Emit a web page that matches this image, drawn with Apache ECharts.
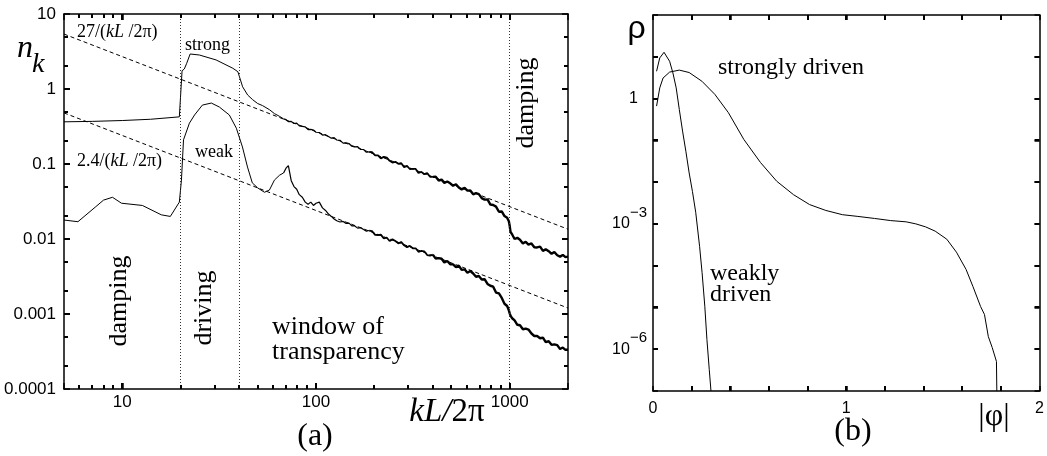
<!DOCTYPE html>
<html><head><meta charset="utf-8">
<script src="https://cdn.jsdelivr.net/npm/echarts@6/dist/echarts.min.js"></script>
<style>html,body{margin:0;padding:0;background:#fff}#c{width:1047px;height:456px}</style>
</head><body><div id="c"></div>
<script>
// ---------------- panel (a) data ----------------
const kRange = [5, 2000];
const nkRange = [0.0001, 10];
const kTickValues = [10, 100, 1000];
const kTickLabels = ['10', '100', '1000'];
const nkTickValues = [10, 1, 0.1, 0.01, 0.001, 0.0001];
const nkTickLabels = ['10', '1', '0.1', '0.01', '0.001', '0.0001'];
const kMinorTicks = [6, 7, 8, 9, 20, 30, 40, 50, 60, 70, 80, 90, 200, 300, 400, 500, 600, 700, 800, 900];
const nkMinorTicks = [0.0002, 0.0005, 0.002, 0.005, 0.02, 0.05, 0.2, 0.5, 2, 5];
const regionBounds = [20, 40, 1000];

const kStrongSmooth = [5, 7, 10, 14, 19.7, 20.35, 20.9, 21.5, 22.4, 25, 30.5, 37.2, 39.5, 41.8, 44.4, 47.1, 50, 53, 57.5, 61, 65, 68];
const nStrongSmooth = [0.365, 0.37, 0.38, 0.395, 0.425, 1.75, 1.85, 2.2, 2.93, 2.84, 2.44, 1.89, 1.70, 1.07, 0.83, 0.72, 0.64, 0.6, 0.53, 0.47, 0.43, 0.40];

const kWeakSmooth = [5, 5.9, 7.3, 8.0, 8.9, 9.9, 12.7, 15.9, 17.7, 19.7, 20.2, 20.7, 22.2, 23.6, 25.9, 28.8, 31.7, 35.7, 38.8, 41.7, 44.3, 46.9, 50, 54.2, 57.5, 61, 64.9, 68];
const nWeakSmooth = [0.0179, 0.017, 0.027, 0.033, 0.036, 0.030, 0.028, 0.021, 0.020, 0.031, 0.061, 0.21, 0.35, 0.45, 0.61, 0.65, 0.575, 0.45, 0.30, 0.169, 0.091, 0.056, 0.048, 0.042, 0.045, 0.061, 0.071, 0.076];

const kNoise = [70, 72, 74.5, 77, 79.5, 82, 85, 88, 91, 94, 97, 100, 104, 108, 112, 116, 120, 124, 128, 133,
  138, 143, 148, 153, 158, 164, 170, 176, 182, 188, 195, 202, 209, 216, 224, 232, 240, 248, 257, 266,
  275, 285, 295, 305, 316, 327, 338, 350, 362, 375, 388, 401, 415, 430, 445, 460, 476, 493, 510, 528,
  546, 565, 585, 605, 626, 648, 670, 693, 717, 742, 768, 795, 822, 850, 880, 910, 940, 970, 990, 1000,
  1010, 1030, 1060, 1095, 1130, 1170, 1210, 1250, 1295, 1340, 1385, 1435, 1485, 1535, 1590, 1645, 1700, 1760, 1820, 1880,
  1940, 2000];
const nStrongNoise = [0.390, 0.368, 0.369, 0.347, 0.350, 0.322, 0.318, 0.313, 0.288, 0.290, 0.284, 0.265, 0.263, 0.243, 0.246, 0.233, 0.2205, 0.2245, 0.209, 0.207,
  0.190, 0.191, 0.1875, 0.1725, 0.169, 0.170, 0.156, 0.156, 0.1435, 0.1455, 0.1435, 0.130, 0.1303, 0.1188, 0.1246, 0.1218, 0.1103, 0.1046, 0.1071, 0.1005,
  0.1029, 0.0909, 0.0942, 0.0858, 0.0863, 0.0859, 0.0759, 0.0786, 0.0731, 0.0756, 0.0675, 0.0673, 0.0677, 0.0603, 0.0619, 0.0558, 0.0584, 0.0553, 0.0513, 0.0537,
  0.0485, 0.0459, 0.0480, 0.0442, 0.0444, 0.0394, 0.0408, 0.0397, 0.0351, 0.0335, 0.0338, 0.0288, 0.0284, 0.0270, 0.0231, 0.0233, 0.0202, 0.0192, 0.0172, 0.0150,
  0.0124, 0.0115, 0.0100, 0.0104, 0.0098, 0.00874, 0.00917, 0.00843, 0.00872, 0.00776, 0.00772, 0.00790, 0.00694, 0.00731, 0.00687, 0.00634, 0.00672, 0.00608, 0.00582, 0.00614,
  0.00574, 0.00581];
const nWeakNoise = [0.088, 0.095, 0.060, 0.050, 0.046, 0.039, 0.036, 0.031, 0.029, 0.031, 0.028, 0.030, 0.031, 0.026, 0.024, 0.0215, 0.020, 0.0185, 0.0175, 0.01686,
  0.01714, 0.01614, 0.01627, 0.01499, 0.01505, 0.01397, 0.01418, 0.0134, 0.01274, 0.01298, 0.0127, 0.01135, 0.0113, 0.01144, 0.01018, 0.0104, 0.0094, 0.00989, 0.00939, 0.00873,
  0.00914, 0.00823, 0.00778, 0.00811, 0.00752, 0.00752, 0.00675, 0.00694, 0.00686, 0.00611, 0.00598, 0.00620, 0.00547, 0.00556, 0.00546, 0.00485, 0.00510, 0.00461, 0.00459, 0.00422,
  0.00441, 0.00388, 0.00394, 0.00355, 0.00374, 0.00347, 0.00314, 0.00321, 0.00289, 0.00291, 0.00252, 0.00238, 0.00231, 0.00193, 0.00188, 0.00164, 0.00137, 0.00128, 0.00112, 0.00102,
  0.00095, 0.000877, 0.000822, 0.000718, 0.000707, 0.000627, 0.000639, 0.000620, 0.000549, 0.000509, 0.000510, 0.000475, 0.000483, 0.000422, 0.000433, 0.000388, 0.000394, 0.000385, 0.000342, 0.000357,
  0.000333, 0.000333];

const fitK = [5, 2000];
const fitStrongN = [5.4, 0.0135];
const fitWeakN = [0.48, 0.0012];

// ---------------- panel (b) data ----------------
const phiRange = [0, 2];
const rhoRange = [1e-7, 100];
const phiTicks = [0.2, 0.4, 0.6, 0.8, 1, 1.2, 1.4, 1.6, 1.8];
const rhoTicks = [1e-6, 1e-5, 1e-4, 1e-3, 1e-2, 1e-1, 1, 10];
const phiTickValues = [0, 1, 2];
const phiTickLabels = ['0', '1', '2'];
const rhoTickValues = [1, 1e-3, 1e-6];
const rhoTickBase = ['1', '10', '10'];
const rhoTickExp = ['', '\u22123', '\u22126'];

const phiWeak = [0.0185, 0.035, 0.057, 0.086, 0.103, 0.12, 0.136, 0.153, 0.170, 0.187, 0.204, 0.221, 0.241, 0.254, 0.268, 0.279, 0.291, 0.30];
const rhoWeak = [4.5, 9.4, 12.8, 7.8, 4.1, 1.8, 0.55, 0.166, 0.055, 0.0166, 0.006, 0.0019, 2.9e-4, 6.8e-5, 1.07e-5, 1.7e-6, 3.3e-7, 1.0e-7];
const phiStrong = [0.0185, 0.035, 0.052, 0.086, 0.136, 0.187, 0.253, 0.32, 0.39, 0.47, 0.556, 0.64, 0.727, 0.81, 0.894, 0.98, 1.06, 1.146, 1.23, 1.31, 1.36, 1.41, 1.46, 1.52, 1.57, 1.62, 1.655, 1.695, 1.715, 1.735, 1.755, 1.777, 1.779];
const rhoStrong = [0.66, 1.8, 3.1, 4.3, 4.8, 4.2, 2.6, 1.26, 0.46, 0.105, 0.0295, 0.0105, 0.005, 0.0029, 0.0021, 0.00166, 0.00151, 0.00135, 0.0012, 0.00112, 0.00100, 0.00085, 0.00067, 0.00043, 0.00021, 8.1e-5, 3.2e-5, 1.05e-5, 6.8e-6, 2.0e-6, 1.1e-6, 5.1e-7, 1e-7];

// ---------------- helpers ----------------
const SERIF = '"Liberation Serif", "Times New Roman", serif';
const SANS = '"Liberation Sans", Arial, sans-serif';
const zip = (xs, ys) => xs.map((x, i) => [x, ys[i]]);
function logLabel(values, labels) {
  return function (v) {
    const lv = Math.log10(v);
    for (let i = 0; i < values.length; i++) {
      if (Math.abs(Math.log10(values[i]) - lv) < 1e-6) return labels[i];
    }
    return '';
  };
}
const axisLine = () => ({ show: true, onZero: false, lineStyle: { color: '#000', width: 1.5 } });
const majorTick = (len) => ({ show: true, inside: true, length: len, lineStyle: { color: '#000', width: 1.5 } });
const lineBase = { type: 'line', showSymbol: false, symbol: 'none', silent: true };
const lastOf = (xs, ys) => [[xs[xs.length - 1], ys[ys.length - 1]]];

const chart = echarts.init(document.getElementById('c'), null, { renderer: 'canvas' });
chart.setOption({
  animation: false,
  backgroundColor: '#fff',
  grid: [
    { left: 64, top: 14, width: 504, height: 375 },
    { left: 653, top: 15, width: 393, height: 376 }
  ],
  xAxis: [
    { gridIndex: 0, type: 'log', min: kRange[0], max: kRange[1], position: 'bottom',
      axisLine: axisLine(), splitLine: { show: false }, axisTick: majorTick(6),
      axisLabel: { margin: 5, color: '#000', fontFamily: SANS, fontSize: 17, formatter: logLabel(kTickValues, kTickLabels) } },
    { gridIndex: 0, type: 'log', min: kRange[0], max: kRange[1], position: 'top',
      axisLine: axisLine(), splitLine: { show: false }, axisTick: majorTick(6), axisLabel: { show: false } },
    { gridIndex: 1, type: 'value', min: phiRange[0], max: phiRange[1], interval: 0.2, position: 'bottom',
      axisLine: axisLine(), splitLine: { show: false }, axisTick: majorTick(5),
      axisLabel: { margin: 10, color: '#000', fontFamily: SANS, fontSize: 16,
        formatter: v => { const i = phiTickValues.findIndex(t => Math.abs(t - v) < 1e-9); return i >= 0 ? phiTickLabels[i] : ''; } } },
    { gridIndex: 1, type: 'value', min: phiRange[0], max: phiRange[1], interval: 0.2, position: 'top',
      axisLine: axisLine(), splitLine: { show: false }, axisTick: majorTick(5), axisLabel: { show: false } }
  ],
  yAxis: [
    { gridIndex: 0, type: 'log', min: nkRange[0], max: nkRange[1], position: 'left',
      axisLine: axisLine(), splitLine: { show: false }, axisTick: majorTick(6),
      axisLabel: { margin: 8, color: '#000', fontFamily: SANS, fontSize: 17, formatter: logLabel(nkTickValues, nkTickLabels) } },
    { gridIndex: 0, type: 'log', min: nkRange[0], max: nkRange[1], position: 'right',
      axisLine: axisLine(), splitLine: { show: false }, axisTick: majorTick(6), axisLabel: { show: false } },
    { gridIndex: 1, type: 'log', min: rhoRange[0], max: rhoRange[1], position: 'left', splitNumber: 9,
      axisLine: axisLine(), splitLine: { show: false }, axisTick: majorTick(5),
      axisLabel: { margin: 6, color: '#000', fontFamily: SANS, fontSize: 16,
        formatter: v => {
          const lv = Math.log10(v);
          const i = rhoTickValues.findIndex(t => Math.abs(Math.log10(t) - lv) < 1e-6);
          if (i < 0) return '';
          return rhoTickExp[i] ? '{b|' + rhoTickBase[i] + '}{s|' + rhoTickExp[i] + '}' : '{p|' + rhoTickBase[i] + '}';
        },
        rich: {
          b: { fontFamily: SANS, fontSize: 16, color: '#000', lineHeight: 38 },
          p: { fontFamily: SANS, fontSize: 16, color: '#000', lineHeight: 38, padding: [0, 9, 0, 0] },
          s: { fontFamily: SANS, fontSize: 15, color: '#000', lineHeight: 8, verticalAlign: 'top' }
        } } },
    { gridIndex: 1, type: 'log', min: rhoRange[0], max: rhoRange[1], position: 'right', splitNumber: 9,
      axisLine: axisLine(), splitLine: { show: false }, axisTick: majorTick(5), axisLabel: { show: false } }
  ],
  series: [
    Object.assign({}, lineBase, { xAxisIndex: 0, yAxisIndex: 0, data: zip(fitK, fitStrongN),
      lineStyle: { color: '#000', width: 1, type: [4, 3] },
      markLine: { silent: true, symbol: 'none', label: { show: false },
        lineStyle: { color: '#333', width: 1, type: [1, 2] },
        data: regionBounds.map(v => ({ xAxis: v })) } }),
    Object.assign({}, lineBase, { xAxisIndex: 0, yAxisIndex: 0, data: zip(fitK, fitWeakN),
      lineStyle: { color: '#000', width: 1, type: [4, 3] } }),
    // strongly driven spectrum
    Object.assign({}, lineBase, { xAxisIndex: 0, yAxisIndex: 0, data: zip(kStrongSmooth, nStrongSmooth),
      lineStyle: { color: '#000', width: 1 } }),
    Object.assign({}, lineBase, { xAxisIndex: 0, yAxisIndex: 0,
      data: lastOf(kStrongSmooth, nStrongSmooth).concat(zip(kNoise.slice(0, 30), nStrongNoise.slice(0, 30))),
      lineStyle: { color: '#000', width: 1.2 } }),
    Object.assign({}, lineBase, { xAxisIndex: 0, yAxisIndex: 0,
      data: zip(kNoise.slice(29, 52), nStrongNoise.slice(29, 52)), lineStyle: { color: '#000', width: 1.8 } }),
    Object.assign({}, lineBase, { xAxisIndex: 0, yAxisIndex: 0,
      data: zip(kNoise.slice(51), nStrongNoise.slice(51)), lineStyle: { color: '#000', width: 2.4 } }),
    // weakly driven spectrum
    Object.assign({}, lineBase, { xAxisIndex: 0, yAxisIndex: 0, data: zip(kWeakSmooth, nWeakSmooth),
      lineStyle: { color: '#000', width: 1 } }),
    Object.assign({}, lineBase, { xAxisIndex: 0, yAxisIndex: 0,
      data: lastOf(kWeakSmooth, nWeakSmooth).concat(zip(kNoise.slice(0, 30), nWeakNoise.slice(0, 30))),
      lineStyle: { color: '#000', width: 1.2 } }),
    Object.assign({}, lineBase, { xAxisIndex: 0, yAxisIndex: 0,
      data: zip(kNoise.slice(29, 52), nWeakNoise.slice(29, 52)), lineStyle: { color: '#000', width: 1.8 } }),
    Object.assign({}, lineBase, { xAxisIndex: 0, yAxisIndex: 0,
      data: zip(kNoise.slice(51), nWeakNoise.slice(51)), lineStyle: { color: '#000', width: 2.4 } }),
    // panel (b)
    Object.assign({}, lineBase, { xAxisIndex: 2, yAxisIndex: 2, data: zip(phiWeak, rhoWeak),
      lineStyle: { color: '#000', width: 1 } }),
    Object.assign({}, lineBase, { xAxisIndex: 2, yAxisIndex: 2, data: zip(phiStrong, rhoStrong),
      lineStyle: { color: '#000', width: 1 } })
  ]
});

// ---------------- text annotations ----------------
const texts = [
  { type: 'text', x: 17, y: 49, style: { text: 'n', font: 'italic 32px ' + SERIF, fill: '#000', align: 'left', verticalAlign: 'middle' } },
  { type: 'text', x: 32, y: 65, style: { text: 'k', font: 'italic 28px ' + SERIF, fill: '#000', align: 'left', verticalAlign: 'middle' } },
  { type: 'text', x: 77, y: 32, style: { text: '{r|27/(}{i|kL}{r| /2\u03c0)}', fill: '#000', align: 'left', verticalAlign: 'middle',
    rich: { r: { fontFamily: SERIF, fontSize: 18, fill: '#000' }, i: { fontFamily: SERIF, fontSize: 18, fontStyle: 'italic', fill: '#000' } } } },
  { type: 'text', x: 77, y: 161, style: { text: '{r|2.4/(}{i|kL}{r| /2\u03c0)}', fill: '#000', align: 'left', verticalAlign: 'middle',
    rich: { r: { fontFamily: SERIF, fontSize: 18, fill: '#000' }, i: { fontFamily: SERIF, fontSize: 18, fontStyle: 'italic', fill: '#000' } } } },
  { type: 'text', x: 185, y: 45, style: { text: 'strong', font: '18px ' + SERIF, fill: '#000', align: 'left', verticalAlign: 'middle' } },
  { type: 'text', x: 195, y: 152, style: { text: 'weak', font: '18px ' + SERIF, fill: '#000', align: 'left', verticalAlign: 'middle' } },
  { type: 'text', x: 119.5, y: 301, rotation: Math.PI / 2, style: { text: 'damping', font: '26px ' + SERIF, fill: '#000', align: 'center', verticalAlign: 'middle' } },
  { type: 'text', x: 204.5, y: 308, rotation: Math.PI / 2, style: { text: 'driving', font: '26px ' + SERIF, fill: '#000', align: 'center', verticalAlign: 'middle' } },
  { type: 'text', x: 526.5, y: 103, rotation: Math.PI / 2, style: { text: 'damping', font: '26px ' + SERIF, fill: '#000', align: 'center', verticalAlign: 'middle' } },
  { type: 'text', x: 272, y: 327, style: { text: 'window of', font: '26px ' + SERIF, fill: '#000', align: 'left', verticalAlign: 'middle' } },
  { type: 'text', x: 272, y: 352, style: { text: 'transparency', font: '26px ' + SERIF, fill: '#000', align: 'left', verticalAlign: 'middle' } },
  { type: 'text', x: 447, y: 412, style: { text: '{i|kL/}{r|2\u03c0}', fill: '#000', align: 'center', verticalAlign: 'middle',
    rich: { r: { fontFamily: SERIF, fontSize: 33, fill: '#000' }, i: { fontFamily: SERIF, fontSize: 33, fontStyle: 'italic', fill: '#000' } } } },
  { type: 'text', x: 315, y: 437, style: { text: '(a)', font: '32px ' + SERIF, fill: '#000', align: 'center', verticalAlign: 'middle' } },
  { type: 'text', x: 636.5, y: 29, style: { text: '\u03c1', font: '32px ' + SANS, fill: '#000', align: 'center', verticalAlign: 'middle' } },
  { type: 'text', x: 718, y: 68, style: { text: 'strongly driven', font: '24px ' + SERIF, fill: '#000', align: 'left', verticalAlign: 'middle' } },
  { type: 'text', x: 710, y: 274, style: { text: 'weakly', font: '24px ' + SERIF, fill: '#000', align: 'left', verticalAlign: 'middle' } },
  { type: 'text', x: 710, y: 295, style: { text: 'driven', font: '24px ' + SERIF, fill: '#000', align: 'left', verticalAlign: 'middle' } },
  { type: 'text', x: 853, y: 432, style: { text: '(b)', font: '32px ' + SERIF, fill: '#000', align: 'center', verticalAlign: 'middle' } },
  { type: 'text', x: 994, y: 417, style: { text: '|\u03c6|', font: '32px ' + SERIF, fill: '#000', align: 'center', verticalAlign: 'middle' } }
];

// ---------------- inward tick marks, placed through the axes' own scales ----------------
const ticks = [];
function addTicks(xi, yi, values, dir, xRange, yRange, len) {
  const toPx = pt => chart.convertToPixel({ xAxisIndex: xi, yAxisIndex: yi }, pt);
  values.forEach(v => {
    if (dir === 'x') {
      const a = toPx([v, yRange[0]]), b = toPx([v, yRange[1]]);
      if (!a || !b || isNaN(a[0])) return;
      const x = Math.round(a[0]) - 1;
      ticks.push({ type: 'rect', silent: true, z: 100, shape: { x: x, y: a[1] - len, width: 2, height: len }, style: { fill: '#000' } });
      ticks.push({ type: 'rect', silent: true, z: 100, shape: { x: x, y: b[1], width: 2, height: len }, style: { fill: '#000' } });
    } else {
      const a = toPx([xRange[0], v]), b = toPx([xRange[1], v]);
      if (!a || !b || isNaN(a[1])) return;
      const y = Math.round(a[1]) - 1;
      ticks.push({ type: 'rect', silent: true, z: 100, shape: { x: a[0], y: y, width: len, height: 2 }, style: { fill: '#000' } });
      ticks.push({ type: 'rect', silent: true, z: 100, shape: { x: b[0] - len, y: y, width: len, height: 2 }, style: { fill: '#000' } });
    }
  });
}
addTicks(0, 0, kTickValues, 'x', kRange, nkRange, 6);
addTicks(0, 0, kMinorTicks, 'x', kRange, nkRange, 4);
addTicks(0, 0, nkTickValues.slice(1, 5), 'y', kRange, nkRange, 6);
addTicks(0, 0, nkMinorTicks, 'y', kRange, nkRange, 4);
addTicks(2, 2, phiTicks, 'x', phiRange, rhoRange, 5);
addTicks(2, 2, rhoTicks, 'y', phiRange, rhoRange, 5);

chart.setOption({ graphic: { elements: texts.concat(ticks) } });
</script>
</body></html>
